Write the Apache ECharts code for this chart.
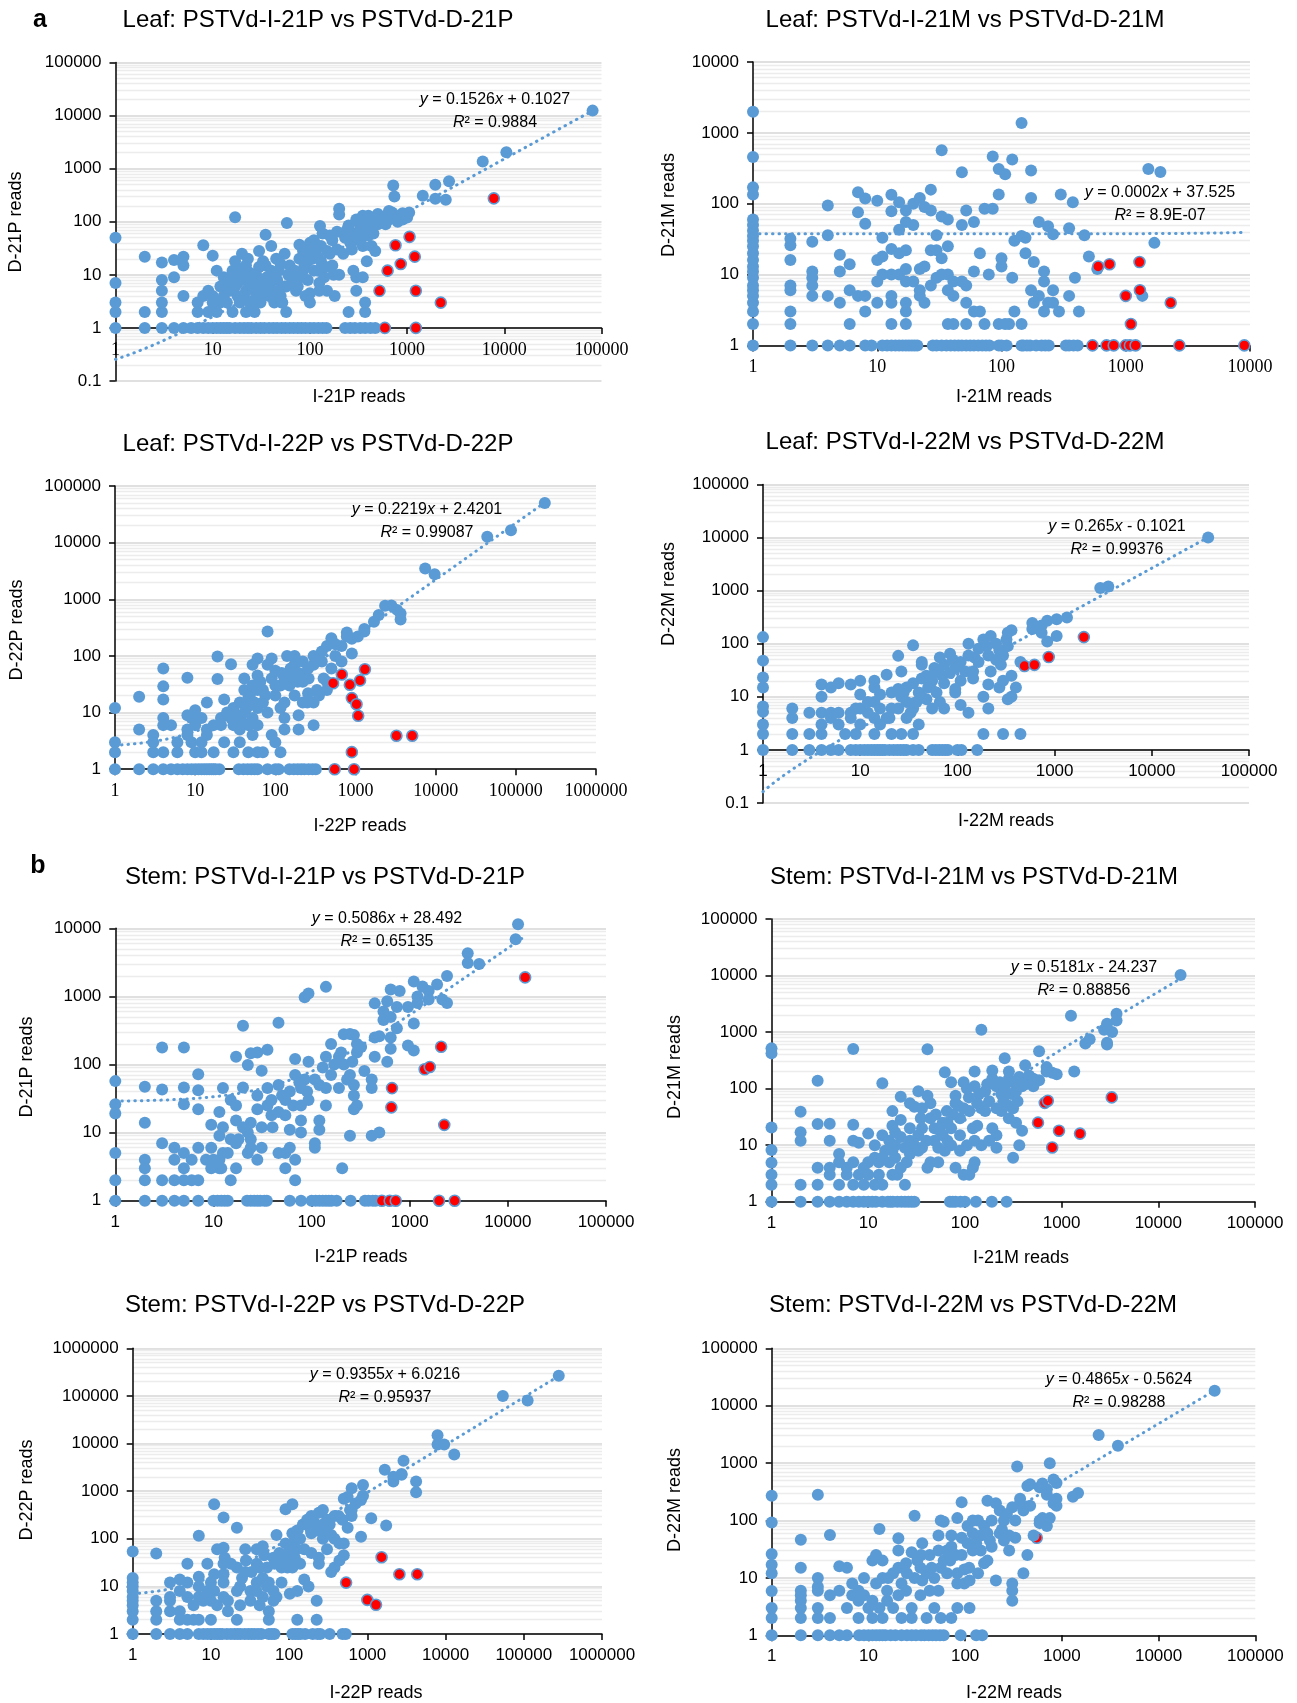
<!DOCTYPE html>
<html><head><meta charset="utf-8">
<script src="https://cdn.jsdelivr.net/npm/echarts@6/dist/echarts.min.js"></script>
<style>html,body{margin:0;padding:0;background:#fff}#c{width:1297px;height:1703px}</style>
</head><body><div id="c"></div><script>
const SANS = '"Liberation Sans", Arial, sans-serif';
const SERIF = '"Liberation Serif", "Times New Roman", serif';
const BLUE = '#5B9BD5', RED = '#FF0000';

// ---------- texts ----------
const panelTitles = [
  'Leaf: PSTVd-I-21P vs PSTVd-D-21P', 'Leaf: PSTVd-I-21M vs PSTVd-D-21M',
  'Leaf: PSTVd-I-22P vs PSTVd-D-22P', 'Leaf: PSTVd-I-22M vs PSTVd-D-22M',
  'Stem: PSTVd-I-21P vs PSTVd-D-21P', 'Stem: PSTVd-I-21M vs PSTVd-D-21M',
  'Stem: PSTVd-I-22P vs PSTVd-D-22P', 'Stem: PSTVd-I-22M vs PSTVd-D-22M'];
const xAxisNames = ['I-21P reads','I-21M reads','I-22P reads','I-22M reads','I-21P reads','I-21M reads','I-22P reads','I-22M reads'];
const yAxisNames = ['D-21P reads','D-21M reads','D-22P reads','D-22M reads','D-21P reads','D-21M reads','D-22P reads','D-22M reads'];
const eqLabels = ['{i|y} = 0.1526{i|x} + 0.1027','{i|y} = 0.0002{i|x} + 37.525','{i|y} = 0.2219{i|x} + 2.4201','{i|y} = 0.265{i|x} - 0.1021',
  '{i|y} = 0.5086{i|x} + 28.492','{i|y} = 0.5181{i|x} - 24.237','{i|y} = 0.9355{i|x} + 6.0216','{i|y} = 0.4865{i|x} - 0.5624'];
const r2Labels = ['{i|R}² = 0.9884','{i|R}² = 8.9E-07','{i|R}² = 0.99087','{i|R}² = 0.99376',
  '{i|R}² = 0.65135','{i|R}² = 0.88856','{i|R}² = 0.95937','{i|R}² = 0.98288'];
const panelLetters = ['a','b'];

// ---------- axis ranges ----------
const xAxisMax = [1e5, 1e4, 1e6, 1e5, 1e5, 1e5, 1e6, 1e5];
const yAxisMin = [0.1, 1, 1, 0.1, 1, 1, 1, 1];
const yAxisMax = [1e5, 1e4, 1e5, 1e5, 1e4, 1e5, 1e6, 1e5];

// ---------- trendlines (from the printed equations) ----------
const trendSlope = [0.1526, 0.0002, 0.2219, 0.265, 0.5086, 0.5181, 0.9355, 0.4865];
const trendIntercept = [0.1027, 37.525, 2.4201, -0.1021, 28.492, -24.237, 6.0216, -0.5624];
const trendStartX = [1, 1, 1, 1, 1, 100, 1, 250];   // where the dotted line first shows in the picture

// ---------- data ----------
const leaf21P_blue = [[1,1],[1,2],[1,3],[1,7],[1,50],[2,1],[2,2],[2,22],[3,1],[3,2],[3,3],[3,5],[3,8],[3,17],
[4,9],[4,19],[5,4],[5,15],[5,22],[7,2],[7,3],[8,4],[8,36],[9,2],[9,5],[10,3],[10,4],[10,23],[11,2],[11,12],[12,3],[12,6],[13,4],[13,9],[14,3],[14,7],[15,5],[15,8],[16,2],[16,12],[17,6],[17,18],[17,122],[18,4],[18,7],[19,3],[19,9],[20,13],[20,25],[21,4],[21,8],[22,2],[22,5],[22,15],[23,20],[24,3],[24,11],[25,6],[25,9],[26,3],[27,2],[27,5],[28,10],[29,4],[30,14],[30,28],[31,3],[31,7],[32,4],[33,18],[34,6],[35,15],[35,57],[36,9],[37,6],[38,4],[40,8],[40,12],[40,35],[42,5],[43,3],[45,20],[46,8],[47,5],[48,12],[50,4],[50,16],[51,3],[52,3],[55,6],[55,25],[57,2],[57,6],[58,95],[60,10],[62,15],[65,7],[68,9],[70,12],[72,5],[75,6],[78,20],[78,37],[80,9],[85,12],[85,28],[88,15],[90,4],[95,8],[95,18],[100,3],[100,4.5],[100,25],[100,40],[105,20],[110,12],[110,45],[115,30],[120,12],[120,22],[125,5],[125,7],[127,83],[130,18],[130,35],[135,60],[140,9],[145,14],[150,5],[150,28],[160,25],[160,55],[170,15],[170,45],[175,10],[180,4],[190,30],[190,65],[200,10],[200,137],[200,176],[220,25],[230,50],[240,70],[250,2],[250,85],[260,40],[270,30],[280,12],[280,45],[290,60],[300,5],[300,9],[300,110],[310,100],[320,45],[330,75],[340,50],[350,9],[350,35],[350,130],[360,70],[370,2],[370,3],[370,100],[385,18],[400,55],[400,130],[420,80],[430,35],[450,60],[470,28],[470,100],[500,90],[500,140],[550,110],[600,90],[600,125],[650,110],[650,160],[700,130],[700,150],[720,480],[740,300],[800,100],[800,130],[900,110],[900,145],[1000,120],[1050,150],[1450,310],[1950,270],[1950,500],[2500,260],[2700,580],[6000,1370],[10500,2040],[81000,12400],
[4,1],[5,1],[6,1],[7,1],[8,1],[9,1],[10,1],[11,1],[12,1],[13,1],[14,1],[15,1],[17,1],[19,1],[21,1],[23,1],[25,1],[28,1],[31,1],[34,1],[38,1],[42,1],[46,1],[51,1],[56,1],[62,1],[68,1],[75,1],[82,1],[90,1],[100,1],[110,1],[122,1],[135,1],[148,1],[230,1],[260,1],[290,1],[330,1],[370,1],[420,1],[470,1]];
const leaf21P_red = [[520,5],[630,12],[760,36],[860,16],[1060,52],[1200,22],[1230,5],[2220,3],[7800,276],[590,1],[1230,1]];

const leaf21M_blue = [[1,1],[1,2],[1,3],[1,4],[1,5],[1,6],[1,7],[1,9],[1,11],[1,13],[1,16],[1,20],[1,25],[1,30],[1,35],[1,42],[1,50],[1,60],[1,135],[1,170],[1,455],[1,1980],
[2,1],[2,2],[2,3],[2,6],[2,7],[2,16],[2,26],[2,32],[3,1],[3,5],[3,7],[3,9],[3,11],[3,29],[4,1],[4,5],[4,36],[4,94],[5,1],[5,4],[5,11],[5,19],[6,1],[6,2],[6,6],[6,14],[7,5],[7,76],[7,145],[8,1],[8,3],[8,5],[8,52],[8,118],[9,1],[10,4],[10,8],[10,16],[10,110],[11,1],[11,10],[11,18],[11,33],[12,1],[13,1],[13,2],[13,4],[13,5],[13,10],[13,23],[13,78],[13,134],[14,1],[15,1],[15,10],[15,20],[15,43],[15,105],[16,1],[17,1],[17,2],[17,3],[17,4],[17,8],[17,12],[17,22],[17,55],[17,80],[18,1],[19,1],[19.5,8],[19.5,50],[19.5,100],[20,1],[21,1],[22,5],[22,6],[22,12],[22,120],[24,4],[24,13],[24,90],[27,7],[27,22],[27,80],[27,158],[28,1],[30,1],[30,9],[30,22],[30,36],[33,1],[33,10],[33,17],[33,66],[33,570],[36,1],[37,2],[37,6],[37,10],[37,25],[37,60],[39,1],[41,2],[41,5],[41,8],[42,1],[45,1],[48,1],[48,8],[48,50],[48,277],[52,1],[52,2],[52,4],[52,7],[52,80],[56,1],[60,1],[60,3],[60,11],[60,55],[65,1],[67,3],[67,20],[70,1],[73,2],[73,85],[75,1],[79,10],[80,1],[85,85],[85,465],[95,1],[95,2],[95,135],[95,310],[100,1],[100,13],[100,17],[107,2],[107,260],[110,1],[115,2],[122,9],[122,420],[127,3],[127,30],[145,1],[145,2],[145,35],[145,1380],[150,1],[156,20],[156,33],[160,1],[170,1],[173,6],[173,120],[173,295],[182,4],[182,15],[190,1],[200,5],[200,55],[210,1],[220,3],[220,8],[220,11],[225,1],[237,4],[237,48],[240,1],[260,4],[260,6],[260,37],[290,3],[300,135],[330,1],[350,1],[350,5],[350,45],[375,105],[380,1],[390,9],[410,1],[420,3],[465,36],[505,18],[590,12],[1360,5],[1520,310],[1700,28],[1900,280]];
const leaf21M_red = [[540,1],[600,13],[700,1],[740,14],[800,1],[1000,5],[1000,1],[1080,1],[1100,2],[1200,1],[1290,15],[1300,6],[2300,4],[2700,1],[9000,1]];

const leaf22P_blue = [[1,1],[1,2],[1,3],[1,12],[2,1],[2,5],[2,19],[3,1],[3,2],[3,3],[3,4],[4,1],[4,2],[4,6],[4,8],[4,17],[4,29],[4,60],[5,1],[5,6],[6,1],[6,2],[6,3],[7,1],[8,1],[8,4],[8,5],[8,9],[8,41],[9,1],[9,3],[9,8],[10,1],[10,2],[10,6],[10,11],[11,1],[12,1],[12,2],[12,3],[12,8],[13,1],[14,1],[14,4],[14,5],[14,15],[15,1],[16,1],[17,1],[17,2],[17,6],[18,1],[19,39],[19,98],[20,1],[21,6],[21,8],[23,3],[23,17],[25,10],[28,8],[28,71],[30,2],[30,6],[30,12],[33,9],[35,1],[36,3],[36,5],[36,15],[38,7],[40,1],[41,10],[41,25],[41,40],[44,12],[45,1],[46,2],[46,6],[46,18],[48,20],[50,1],[52,4],[52,8],[52,30],[52,70],[55,1],[55,15],[60,1],[60,2],[60,6],[60,12],[60,25],[60,45],[60,90],[65,35],[70,2],[70,15],[70,25],[75,20],[80,1],[80,10],[80,70],[80,270],[90,4],[90,40],[90,90],[100,1],[100,3],[100,20],[100,30],[100,55],[110,1],[116,2],[116,12],[116,30],[120,50],[130,5],[130,8],[130,15],[130,40],[140,100],[150,1],[150,30],[155,45],[155,60],[170,1],[174,20],[174,70],[174,100],[180,80],[190,1],[190,35],[195,5],[195,9],[195,50],[210,1],[220,15],[220,35],[220,80],[230,1],[230,45],[250,15],[256,22],[256,60],[260,1],[260,40],[290,1],[300,6],[300,15],[300,70],[300,100],[320,1],[330,25],[350,20],[380,80],[380,120],[400,40],[440,25],[440,35],[440,150],[500,60],[500,205],[560,100],[560,160],[670,80],[670,150],[780,220],[780,260],[900,110],[900,200],[1070,220],[1290,270],[1290,300],[1700,400],[1950,530],[2340,770],[2800,780],[3300,650],[3650,440],[3650,560],[7400,3500],[9700,2760],[44000,12700],[87000,16600],[230000,50000]];
const leaf22P_red = [[525,33],[675,47],[850,31],[900,18],[1030,14],[1080,8.8],[1140,37],[1310,58],[3240,3.9],[5100,3.9],[900,2],[550,1],[960,1]];

const leaf22M_blue = [[1,1],[1,2],[1,3],[1,5.2],[1,6.6],[1,15],[1,23],[1,48],[1,133],[2,1],[2,2],[2,4],[2,6],[3,1],[3,2],[3,5],[4,1],[4,2],[4,3],[4,5],[4,10],[4,17],[5,1],[5,4],[5,5],[5,15],[6,1],[6,3],[6,5],[6,18],[7,2],[8,1],[8,4],[8,5],[8,17],[9,1],[9,2],[9,6],[10,1],[10,3],[10,6],[10,11],[10,20],[11,1],[12,1],[12,5],[12,8],[13,1],[14,1],[14,2],[14,4],[14,8],[14,15],[14,20],[15,1],[16,1],[16,3],[16,6],[16,11],[17,1],[18,1],[18.7,4],[18.7,26],[20,1],[20,4],[21,2],[21,6],[21,12],[22,1],[24,1],[24.6,6],[24.6,14],[24.6,59],[26,1],[26.5,2],[26.5,10],[26.5,30],[28,1],[28,12],[30,1],[30,4],[30,8],[30,15],[33,5],[35,1],[35,2],[35,6],[35,18],[35,93],[38,8],[40,1],[40,3],[40,12],[43,10],[43,22],[43,40],[43,45],[48,9],[48,25],[50,15],[55,1],[55,6],[55,20],[58,35],[60,1],[61,12],[61,30],[65,1],[66,8],[66,55],[70,1],[70,25],[73,6],[73,18],[73,40],[75,1],[80,1],[84,28],[84,65],[90,50],[95,12],[95,14],[95,35],[100,1],[108,7],[108,20],[108,45],[110,1],[120,30],[130,5],[130,60],[130,100],[145,22],[145,30],[150,55],[160,1],[165,45],[165,80],[185,2],[185,10],[185,120],[200,90],[208,6],[208,17],[208,60],[220,30],[220,140],[250,50],[250,100],[270,15],[270,75],[280,40],[295,2],[295,20],[295,60],[320,120],[330,9],[330,90],[330,160],[360,10],[360,25],[360,180],[400,15],[445,2],[445,45],[590,190],[590,245],[735,160],[735,220],[840,110],[840,270],[1050,140],[1050,290],[1340,310],[2950,1120],[3570,1200],[38000,10000]];
const leaf22M_red = [[490,38],[620,40],[870,56],[2000,133]];

const stem21P_blue = [[1,1],[1,2],[1,5],[1,19],[1,26],[1,57],[2,1],[2,2],[2,3],[2,4],[2,14],[2,47],[3,1],[3,2],[3,7],[3,43],[3,177],[4,1],[4,2],[4,4],[4,6],[5,1],[5,2],[5,3],[5,5],[5,26],[5,46],[5,177],[6,2],[6,4],[7,1],[7,2],[7,6],[7,22],[7,42],[7,72],[8.4,4],[9.5,3],[9.5,6],[9.5,13],[10,1],[10,4],[11,1],[11.5,3],[11.5,4],[11.5,9],[11.5,20],[12,1],[12,3],[12.5,5],[12.5,12],[12.5,45],[13,1],[14,1],[14,5],[15,2],[15,8],[15,30],[17,3],[17,7],[17,15],[17,25],[17,130],[18,8],[20,12],[20,46],[20,370],[22,1],[22.4,5],[22.4,10],[22.4,98],[24,1],[24,6],[24,8],[24,14],[24,146],[26,1],[28,1],[28,4],[28,22],[28,35],[28,150],[30,1],[31,6],[31,12],[31,81],[33,1],[35,1],[35.5,25],[35.5,45],[35.5,165],[39,18],[39,30],[40,12],[46,5],[46,20],[46,50],[46,410],[50,35],[54,3],[54,5],[54,18],[54,30],[60,1],[60,6],[60,11],[60,40],[65,25],[68,2],[68,4],[68,70],[68,120],[75,55],[78,1],[78,10],[78,15],[78,25],[78,45],[85,60],[85,970],[90,40],[93,30],[93,110],[93,1100],[100,1],[108,6],[108,7],[108,60],[110,1],[120,1],[120,11],[120,15],[120,50],[130,1],[130,90],[140,1],[140,25],[140,45],[140,130],[140,1380],[150,1],[158,70],[158,200],[160,1],[170,100],[180,1],[190,45],[190,130],[200,150],[205,3],[213,100],[213,277],[230,60],[246,9],[246,70],[246,280],[250,1],[260,110],[270,22],[270,35],[270,50],[270,270],[290,25],[290,150],[290,200],[320,180],[345,80],[350,1],[380,1],[410,9],[410,45],[410,60],[420,1],[440,130],[440,250],[440,790],[450,1],[490,10],[490,260],[540,450],[540,600],[590,110],[590,850],[640,170],[640,250],[640,500],[640,1260],[740,340],[740,700],[790,1200],[960,190],[960,700],[1100,160],[1100,400],[1100,1650],[1200,800],[1200,1000],[1350,1400],[1560,900],[1560,1200],[1900,1500],[2150,900],[2400,800],[2400,2000],[3900,3100],[3900,4300],[5100,3000],[12000,6900],[12700,11500]];
const stem21P_red = [[2090,182],[1420,85],[1600,92],[660,45],[650,23.5],[2250,13],[15000,1900],[520,1],[625,1],[720,1],[1990,1],[2870,1]];

const stem21M_blue = [[1,1],[1,2],[1,3],[1,4.9],[1,8.2],[1,20.6],[1,420],[1,515],[2,1],[2,2],[2,12],[2,17],[2,39],[3,1],[3,2],[3,4],[3,23.7],[3,138],[4,1],[4,3],[4,4],[4,12],[4,24],[5,1],[5,2],[5,5],[5,7],[6,1],[6,3],[6,4],[7,1],[7,2],[7,5],[7,12],[7,23],[7,500],[8,1],[8,3],[8,11],[9,1],[9,2],[9,4],[10,1],[10,3],[10,5],[10,16],[11,1],[11.7,2],[11.7,6],[11.7,10],[12,1],[12.9,3],[12.9,5],[14,1],[14,2],[14,6],[14,15],[14,124],[15,8],[16,1],[16.5,5],[16.5,12],[17,1],[17.8,3],[17.8,8],[17.8,22],[17.8,40],[18,1],[19,6],[19,10],[19,17],[20,1],[20,3],[21.7,4],[21.7,14],[21.7,28],[21.7,72],[22,1],[24,1],[24,2],[24,9],[25,5],[26,1],[27,7],[27,12],[27,20],[27,55],[28,1],[30,1],[30,10],[30,48],[33,8],[33,15],[33,90],[35,30],[36,9],[36,20],[36,45],[40,12],[41,4],[41,75],[41,495],[44,5],[44,30],[44,55],[48.5,12],[48.5,20],[50,35],[53,5],[53,9],[55,18],[59,15],[59,25],[62,8],[62,195],[65,40],[66,12],[66,25],[70,1],[72,10],[72,20],[72,130],[75,1],[75,35],[80,1],[80,4],[80,55],[80,75],[85,50],[89,8],[89,15],[89,30],[90,1],[97,3],[97,45],[97,130],[100,1],[105,10],[105,100],[110,70],[111,3],[111,40],[121,4],[121,20],[126,5],[126,12],[126,110],[126,200],[130,1],[134,22],[134,55],[140,80],[148,10],[148,45],[148,1100],[162,40],[162,90],[170,120],[178,12],[178,60],[190,1],[192,20],[192,150],[192,210],[212,9],[212,15],[212,45],[212,110],[230,130],[238,40],[238,80],[250,60],[258,100],[258,345],[270,1],[285,30],[285,50],[285,150],[285,200],[300,80],[315,6],[315,45],[315,130],[338,25],[338,90],[350,60],[365,10],[365,160],[390,18],[390,110],[420,120],[420,260],[460,130],[460,170],[510,110],[510,150],[585,140],[585,460],[700,200],[700,240],[800,190],[890,180],[1250,1950],[1350,200],[1760,630],[1950,750],[2750,1100],[2950,600],[2950,650],[2950,1400],[3330,1000],[3700,1600],[3700,2100],[17000,10200]];
const stem21M_red = [[570,25],[670,56],[720,61],[800,9.1],[940,18],[1550,16],[3300,70]];

const stem22P_blue = [[1,1],[1,2],[1,3],[1,4],[1,5],[1,6],[1,8],[1,10],[1,12],[1,15],[1,54],[2,1],[2,2],[2,3],[2,5],[2,49],[3,1],[3,3],[3,5],[3,6],[3,12],[4,1],[4,2],[4,3],[4,8],[4,14],[5,1],[5,2],[5,6],[5,12],[5,30],[6,2],[6,4],[7,1],[7,2],[7,6],[7,10],[7,16],[7,116],[8,1],[8,5],[9,1],[9,8],[9,30],[10,1],[10,2],[10,5],[10,12],[11,1],[11,8],[11,18],[11,530],[12,1],[12,4],[12,60],[13,1],[14,1],[14.5,6],[14.5,12],[14.5,18],[14.5,30],[14.5,65],[14.5,280],[15,40],[16,1],[16.5,3],[16.5,5],[18,1],[18,30],[20,1],[21.5,2],[21.5,8],[21.5,25],[21.5,170],[22,1],[23.6,4],[23.6,10],[24,1],[25,15],[27,1],[27.5,20],[27.5,60],[28,35],[30,1],[32,5],[32,8],[33,1],[33,20],[36,1],[38,8],[38.5,12],[38.5,30],[38.5,60],[40,1],[42,4],[42,25],[44,1],[46,6],[46,15],[46,70],[48,45],[52,10],[52,25],[55,1],[55,2],[55,3],[55,12],[60,1],[63,5],[63,8],[63,40],[65,1],[65,30],[69,6],[69,120],[75,50],[80,12],[80,25],[85,40],[90,80],[90,415],[95,25],[102,7],[102,60],[105,35],[110,1],[110,25],[110,130],[110,530],[115,80],[118,40],[120,1],[125,60],[127,2],[127,8],[127,150],[130,1],[138,30],[138,100],[140,1],[150,200],[156,14],[156,60],[160,1],[170,250],[177,10],[177,200],[190,150],[192,50],[192,130],[192,300],[200,1],[210,220],[225,2],[225,5],[225,150],[230,1],[240,30],[240,40],[240,350],[250,1],[260,180],[270,100],[270,200],[270,400],[300,150],[305,60],[305,250],[330,1],[330,200],[345,20],[345,120],[380,25],[380,100],[380,300],[430,300],[440,35],[440,80],[480,1],[480,250],[500,45],[500,80],[500,690],[530,1],[560,170],[560,750],[600,400],[630,300],[630,400],[630,1150],[710,550],[830,110],[830,650],[880,800],[880,1350],[1120,270],[1670,2800],[1740,190],[2150,1600],[2150,2000],[2740,2200],[2740,2300],[2900,4370],[4200,950],[4200,1600],[7900,9500],[7900,15000],[9600,9500],[12900,5900],[54000,100000],[112000,80000],[280000,265000]];
const stem22P_red = [[535,12],[1520,41],[2570,18],[4350,18],[1000,5.2],[1290,4.1]];

const stem22M_blue = [[1,1],[1,2],[1,3],[1,5.9],[1,12],[1,17],[1,26],[1,92],[1,270],[2,1],[2,2],[2,3],[2,4],[2,5],[2,6],[2,15],[2,46],[3,1],[3,2],[3,3],[3,6],[3,7],[3,10],[3,280],[4,1],[4,2],[4,5],[4,56],[5,1],[5,6],[5,16],[6,1],[6,3],[6,15],[6.8,5],[6.8,8],[8,1],[7.9,2],[7.9,4],[7.9,6],[9,1],[9,5],[9,10],[10,1],[10,3],[11,1],[11,2],[11,4],[11,20],[12,1],[12,8],[12,25],[13,1],[13,3],[13,71],[14,1],[14,2],[14,10],[14,20],[15,1],[15.6,4],[15.6,6],[16,10],[17,1],[18,3],[18,12],[19,1],[20.4,5],[20.4,15],[20.4,30],[20.4,49],[22,1],[22,2],[22,8],[24.5,6],[24.5,18],[25,1],[25,12],[28,1],[28,2],[28,3],[28,28],[30,10],[30,121],[31,1],[32,20],[34.5,5],[34.5,15],[35,1],[35,25],[36,9],[36,40],[38,1],[40,2],[40,12],[42,1],[43,6],[43,25],[45,15],[46,1],[48,3],[48,10],[50,1],[53,6],[53,30],[53,55],[55,1],[56,2],[56,15],[56,100],[60,1],[60,20],[60,95],[65,12],[65,30],[70,20],[72,2],[72,35],[72,55],[80,25],[83,3],[83,8],[83,12],[83,110],[90,1],[92,25],[92,50],[92,208],[98,8],[98,14],[106,40],[106,80],[110,15],[111,3],[111,9],[120,30],[120,60],[120,100],[130,1],[130,40],[136,12],[136,100],[145,30],[145,55],[150,1],[157,18],[157,80],[170,20],[170,60],[170,220],[180,45],[188,35],[188,100],[208,9],[208,200],[228,60],[228,150],[240,70],[252,45],[252,100],[270,130],[285,30],[285,55],[307,4],[307,6],[307,8],[307,170],[330,50],[330,100],[345,870],[370,200],[370,240],[400,12],[400,150],[440,25],[440,400],[470,180],[470,430],[510,55],[590,90],[590,100],[590,380],[630,110],[630,440],[700,80],[700,280],[700,350],[750,110],[750,990],[820,200],[820,520],[880,180],[880,240],[880,450],[1300,260],[1470,300],[2400,3100],[3800,2000],[38000,18300]];
const stem22M_red = [[550,50]];

const blueSets = [leaf21P_blue, leaf21M_blue, leaf22P_blue, leaf22M_blue, stem21P_blue, stem21M_blue, stem22P_blue, stem22M_blue];
const redSets = [leaf21P_red, leaf21M_red, leaf22P_red, leaf22M_red, stem21P_red, stem21M_red, stem22P_red, stem22M_red];

// ---------- layout (pixels) ----------
const grids = [[115.5,62.5,486,318.5],[753,62,497,283.4],[115,486,481,283.2],[763,484.4,486,318.6],
  [115.3,928.3,490.7,272.4],[771.5,919,483.5,282.7],[132.7,1348.3,469.3,285.7],[771.7,1348.3,483.6,287]];
const titlePos = [[318,20],[965,20],[318,444],[965,442],[325,877],[974,877],[325,1305],[973,1305]];
const eqPos = [[495,100],[1160,193],[427,510],[1117,527],[387,919],[1084,968],[385,1375],[1119,1380]];
const xNamePos = [[359,397],[1004,397],[360,826],[1006,821],[361,1257],[1021,1258],[376,1693],[1014,1693]];
const yNamePos = [[16,222],[669,205],[17,630],[669,594],[27,1067],[675,1067],[27,1490],[675,1500]];
const letterPos = [[40,20],[38,866]];
const xLabelSerif = [true,true,true,false,false,false,false,false];
const redBelowBlue = [false,false,false,false,false,false,false,true];

function tickFmt(v){ return v < 1 ? String(Number(v.toPrecision(1))) : String(Math.round(v)); }
function minorValues(lo, hi){
  const out = [];
  for (let d = Math.round(Math.log10(lo)); d < Math.round(Math.log10(hi)); d++)
    for (let k = 2; k <= 9; k++) out.push(k * Math.pow(10, d));
  return out;
}
function trendPoints(i){
  const all = blueSets[i].concat(redSets[i]);
  const xs = all.map(p => p[0]);
  const lx0 = Math.log10(Math.max(trendStartX[i], Math.min.apply(null, xs))), lx1 = Math.log10(Math.max.apply(null, xs));
  const pts = [];
  for (let k = 0; k <= 300; k++){
    const x = Math.pow(10, lx0 + (lx1 - lx0) * k / 300);
    const y = trendSlope[i] * x + trendIntercept[i];
    if (y >= yAxisMin[i]) pts.push([x, y]);
  }
  return pts;
}

const option = {animation:false, backgroundColor:'#fff', grid:[], xAxis:[], yAxis:[], series:[], graphic:[]};
for (let i = 0; i < 8; i++){
  const [l,t,w,h] = grids[i];
  option.grid.push({left:l, top:t, width:w, height:h, show:false});
  const yDec = Math.log10(yAxisMax[i] / yAxisMin[i]);
  const xOff = -h * Math.log10(1 / yAxisMin[i]) / yDec;
  option.xAxis.push({type:'log', logBase:10, gridIndex:i, min:1, max:xAxisMax[i], position:'bottom', offset:xOff,
    axisLine:{show:true, onZero:false, lineStyle:{color:'#000', width:1.5}},
    axisTick:{show:true, inside:false, length:6, lineStyle:{color:'#000', width:1.5}},
    axisLabel:{color:'#000', fontFamily: xLabelSerif[i] ? SERIF : SANS, fontSize: xLabelSerif[i] ? 18 : 17, margin:13, formatter:tickFmt},
    splitLine:{show:false}});
  option.yAxis.push({type:'log', logBase:10, gridIndex:i, min:yAxisMin[i], max:yAxisMax[i], position:'left',
    axisLine:{show:true, onZero:false, lineStyle:{color:'#000', width:1.5}},
    axisTick:{show:true, inside:false, length:6, lineStyle:{color:'#000', width:1.5}},
    axisLabel:{color:'#000', fontFamily:SANS, fontSize:17, margin:14, formatter:tickFmt},
    splitLine:{show:true, lineStyle:{color:'#d6d6d6', width:1.6}}});
  // minor gridlines (behind everything)
  option.series.push({type:'scatter', xAxisIndex:i, yAxisIndex:i, data:[], silent:true, z:0, zlevel:0,
    markLine:{silent:true, z:0, symbol:['none','none'], label:{show:false}, animation:false,
      lineStyle:{color:'#ececec', type:'solid', width:1.3},
      data: minorValues(yAxisMin[i], yAxisMax[i]).map(v => ({yAxis:v}))}});
  // trendline under the markers
  option.series.push({type:'line', xAxisIndex:i, yAxisIndex:i, data:trendPoints(i), symbol:'none', showSymbol:false,
    silent:true, z:2, clip:true, lineStyle:{color:BLUE, width:3, type:[0.5,6], cap:'round'}});
  const blueSeries = {type:'scatter', xAxisIndex:i, yAxisIndex:i, data:blueSets[i], symbol:'circle', symbolSize:12,
    clip:false, z: 4, itemStyle:{color:BLUE, opacity:1}};
  const redSeries = {type:'scatter', xAxisIndex:i, yAxisIndex:i, data:redSets[i], symbol:'circle', symbolSize:11,
    clip:false, z: redBelowBlue[i] ? 3 : 5, itemStyle:{color:RED, borderColor:BLUE, borderWidth:1.6, opacity:1}};
  option.series.push(blueSeries, redSeries);

  const txt = (x, y, text, size, extra) => ({type:'text', x:x, y:y, silent:true, z:10,
    style:Object.assign({text:text, fontSize:size, fontFamily:SANS, fill:'#000', align:'center', verticalAlign:'middle',
      textAlign:'center', textVerticalAlign:'middle'}, extra || {})});
  option.graphic.push(txt(titlePos[i][0], titlePos[i][1], panelTitles[i], 24));
  option.graphic.push(txt(xNamePos[i][0], xNamePos[i][1], xAxisNames[i], 18));
  const yn = txt(yNamePos[i][0], yNamePos[i][1], yAxisNames[i], 18);
  yn.rotation = Math.PI / 2;
  option.graphic.push(yn);
  const rich = {i:{fontStyle:'italic', fontSize:16, fontFamily:SANS, fill:'#000', color:'#000'}};
  option.graphic.push(txt(eqPos[i][0], eqPos[i][1], eqLabels[i], 16, {rich:rich}));
  option.graphic.push(txt(eqPos[i][0], eqPos[i][1] + 22.5, r2Labels[i], 16, {rich:rich}));
}
option.graphic.push({type:'text', x:letterPos[0][0], y:letterPos[0][1], z:10, style:{text:panelLetters[0], fontSize:25, fontWeight:'bold', fontFamily:SANS, fill:'#000', align:'center', verticalAlign:'middle'}});
option.graphic.push({type:'text', x:letterPos[1][0], y:letterPos[1][1], z:10, style:{text:panelLetters[1], fontSize:25, fontWeight:'bold', fontFamily:SANS, fill:'#000', align:'center', verticalAlign:'middle'}});

const chart = echarts.init(document.getElementById('c'), null, {renderer:'canvas'});
chart.setOption(option);
</script></body></html>
